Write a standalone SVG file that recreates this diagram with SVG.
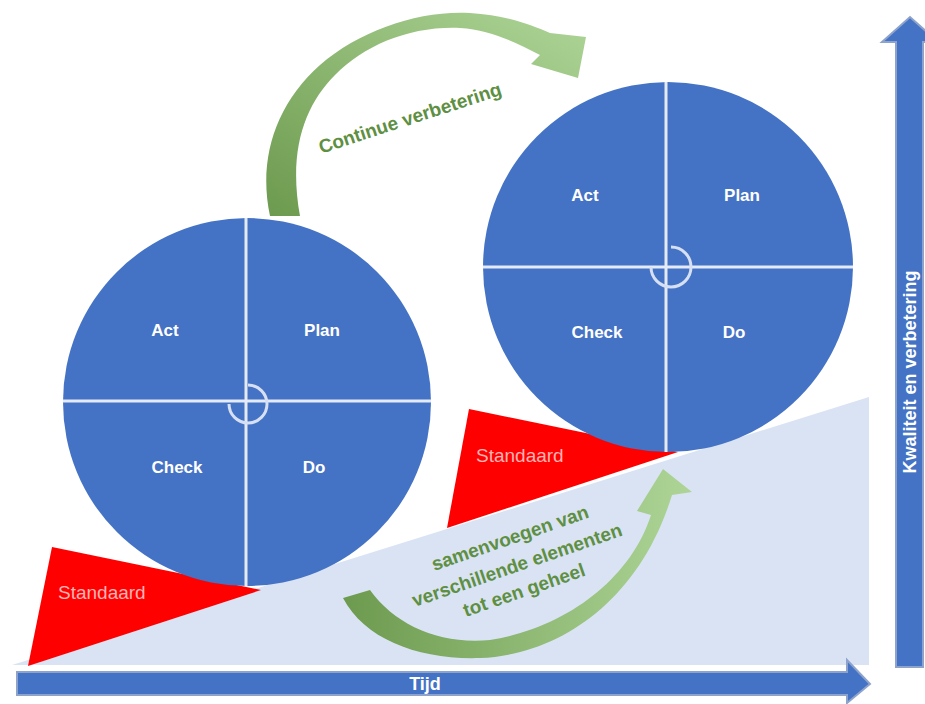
<svg xmlns="http://www.w3.org/2000/svg" width="925" height="704" viewBox="0 0 925 704">
<defs>
<linearGradient id="gTop" x1="0" y1="1" x2="1" y2="0">
<stop offset="0" stop-color="#6C9A4E"/>
<stop offset="1" stop-color="#AED597"/>
</linearGradient>
<linearGradient id="gBot" x1="0" y1="0" x2="1" y2="0">
<stop offset="0" stop-color="#6C9A4E"/>
<stop offset="1" stop-color="#AED597"/>
</linearGradient>
<style>
.circ{fill:#4472C4}
.ln{stroke:#E4EBF7;stroke-width:3;fill:none}
.sm{stroke:#D6E0F2;stroke-width:3;fill:none}
.lbl{font-family:"Liberation Sans",Arial,sans-serif;font-weight:bold;font-size:17px;fill:#FFFFFF;text-anchor:middle;dominant-baseline:central}
.std{font-family:"Liberation Sans",Arial,sans-serif;font-size:19px;fill:#FFB4B4;dominant-baseline:central}
.grn{font-family:"Liberation Sans",Arial,sans-serif;font-weight:bold;font-size:19px;fill:#5E8F42;text-anchor:middle;dominant-baseline:central}
.axt{font-family:"Liberation Sans",Arial,sans-serif;font-weight:bold;font-size:18px;fill:#FFFFFF;text-anchor:middle;dominant-baseline:central}
.ax{fill:#4472C4;stroke:#8EA3CC;stroke-width:2}
</style>
</defs>
<rect width="925" height="704" fill="#FFFFFF"/>

<g id="wedge"><polygon points="12,665 869,397 869,665" fill="#DAE3F3"/></g>

<g id="standard-left">
<polygon points="52,547 261,590 28,666" fill="#FF0000"/>
<text class="std" x="58" y="592">Standaard</text>
</g>
<g id="standard-right">
<polygon points="469,409 678,452 447,528" fill="#FF0000"/>
<text class="std" x="476" y="455">Standaard</text>
</g>

<g id="pdca-left">
<circle class="circ" cx="247" cy="402" r="184"/>
<line class="ln" x1="63" y1="401" x2="431" y2="401"/>
<line class="ln" x1="246" y1="218" x2="246" y2="586"/>
<path class="sm" d="M248,385 A19,19 0 1 1 229,404"/>
<text class="lbl" x="165" y="330">Act</text>
<text class="lbl" x="322" y="330">Plan</text>
<text class="lbl" x="177" y="467">Check</text>
<text class="lbl" x="314" y="467">Do</text>
</g>

<g id="pdca-right">
<circle class="circ" cx="668" cy="267" r="185"/>
<line class="ln" x1="483" y1="267" x2="853" y2="267"/>
<line class="ln" x1="666" y1="82" x2="666" y2="452"/>
<path class="sm" d="M671,247 A20,20 0 1 1 651,267"/>
<text class="lbl" x="585" y="195">Act</text>
<text class="lbl" x="742" y="195">Plan</text>
<text class="lbl" x="597" y="332">Check</text>
<text class="lbl" x="734" y="332">Do</text>
</g>

<g id="connectors">
<g id="arrow-continue">
<path d="M270,216 C258,160 275,105 320,65 C360,30 420,10 470,13 C505,15 530,24 550,33 L586,37 L578,78 L531,64 L540,55 C515,42 490,30 460,28 C410,26 365,45 335,75 C305,105 288,150 300,216 Z" fill="url(#gTop)"/>
<text class="grn" transform="translate(410,118) rotate(-18)">Continue verbetering</text>
</g>
<g id="arrow-merge">
<path d="M343,598 C365,640 420,660 480,658 C560,655 640,600 672,495 L692,492 L663,469 L637,511 L651,515 C630,580 565,628 490,640 C440,645 395,625 370,590 Z" fill="url(#gBot)"/>
<text class="grn" transform="translate(510,538) rotate(-19)">samenvoegen van</text>
<text class="grn" transform="translate(517,565) rotate(-19)">verschillende elementen</text>
<text class="grn" transform="translate(524,590) rotate(-19)">tot een geheel</text>
</g>
</g>

<g id="axis-time">
<path class="ax" d="M17,672 L847,672 L847,660 L870,684 L847,703 L847,695 L17,695 Z"/>
<text class="axt" x="425" y="684">Tijd</text>
</g>
<g id="axis-quality">
<path class="ax" d="M896,667 L896,42 L882,42 L910,17 L938,42 L923,42 L923,667 Z"/>
<text class="axt" transform="translate(910,372) rotate(-90)" font-size="19">Kwaliteit en verbetering</text>
</g>
</svg>
